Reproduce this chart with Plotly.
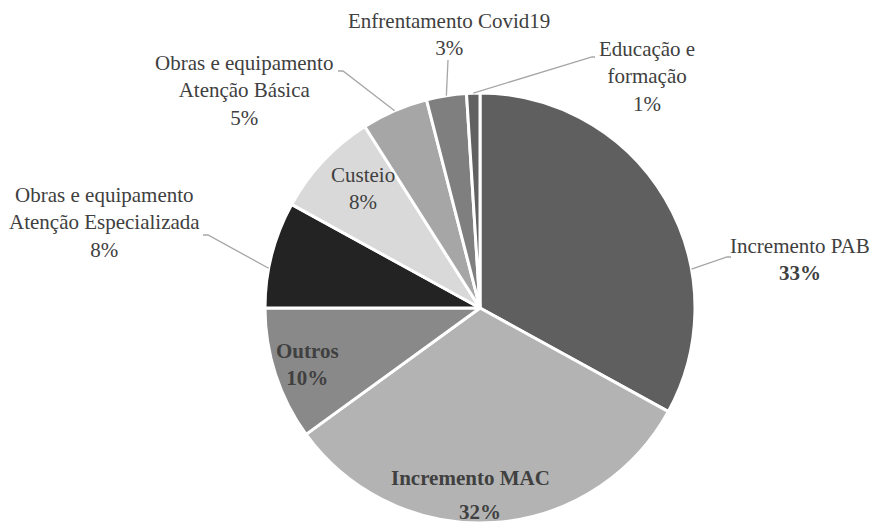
import math
import plotly.graph_objects as go

# Slice data (clockwise from 12 o'clock)
categories = [
    "Incremento PAB",
    "Incremento MAC",
    "Outros",
    "Obras e equipamento<br>Atenção Especializada",
    "Custeio",
    "Obras e equipamento<br>Atenção Básica",
    "Enfrentamento Covid19",
    "Educação e<br>formação",
]
shares = [33, 32, 10, 8, 8, 5, 3, 1]
colors = ["#5f5f5f", "#b3b3b3", "#898989", "#232323",
          "#d9d9d9", "#a6a6a6", "#7f7f7f", "#616161"]

W, H = 876, 524
CX, CY, R = 480, 308, 215          # pie centre / radius in pixels
FONT = "Liberation Serif"
FS = 21
TXT = "#404040"
LEAD = "#a6a6a6"


def px(x, y):
    return x / W, 1 - y / H


fig = go.Figure(go.Pie(
    labels=[c.replace("<br>", " ") for c in categories],
    values=shares,
    sort=False,
    direction="clockwise",
    rotation=0,
    marker=dict(colors=colors, line=dict(color="white", width=3)),
    textinfo="none",
    hoverinfo="label+percent",
    showlegend=False,
    domain=dict(x=[(CX - R) / W, (CX + R) / W],
                y=[1 - (CY + R) / H, 1 - (CY - R) / H]),
))

total = sum(shares)
starts = []
acc = 0
for v in shares:
    starts.append(acc)
    acc += v


def arc_point(i, frac=0.5):
    ang = (starts[i] + frac * shares[i]) / total * 2 * math.pi
    return CX + R * math.sin(ang), CY - R * math.cos(ang)


# label placement: (x, y) of text block centre, bold flags,
# leader elbow points (None for inside labels), position along slice
label_style = {
    0: dict(xy=(800, 259), bold_pct=True, bold_name=False,
            leader=[(731, 257), (727, 257)], frac=0.67),
    2: dict(xy=(307, 364), bold_pct=True, bold_name=True, leader=None),
    3: dict(xy=(104, 222), bold_pct=False, bold_name=False,
            leader=[(203, 235), (208, 235)], frac=0.37),
    4: dict(xy=(363, 188), bold_pct=False, bold_name=False, leader=None),
    5: dict(xy=(244, 91), bold_pct=False, bold_name=False,
            leader=[(338, 71), (343, 71)], frac=0.5),
    6: dict(xy=(449, 34), bold_pct=False, bold_name=False,
            leader=[(448, 60)], frac=0.5),
    7: dict(xy=(647, 76), bold_pct=False, bold_name=False,
            leader=[(595, 57), (592, 57)], frac=0.5),
}

annotations = []
shapes = []
for i, st in label_style.items():
    name = categories[i]
    pct = f"{shares[i] / total * 100:.0f}%"
    if st["bold_name"]:
        name = "<br>".join(f"<b>{p}</b>" for p in name.split("<br>"))
    if st["bold_pct"]:
        pct = f"<b>{pct}</b>"
    x, y = px(*st["xy"])
    annotations.append(dict(
        x=x, y=y, xref="paper", yref="paper", text=f"{name}<br>{pct}",
        showarrow=False, xanchor="center", yanchor="middle", align="center",
        font=dict(family=FONT, size=FS, color=TXT),
    ))
    if st["leader"]:
        pts = list(st["leader"]) + [arc_point(i, st["frac"])]
        path = "M " + " L ".join(f"{px(a, b)[0]},{px(a, b)[1]}" for a, b in pts)
        shapes.append(dict(type="path", xref="paper", yref="paper",
                           path=path, line=dict(color=LEAD, width=1.3)))

# Incremento MAC: name and value set further apart
for text, (x0, y0) in [("<b>Incremento MAC</b>", (470, 478)),
                        (f"<b>{shares[1] / total * 100:.0f}%</b>", (480, 512))]:
    x, y = px(x0, y0)
    annotations.append(dict(
        x=x, y=y, xref="paper", yref="paper", text=text, showarrow=False,
        xanchor="center", yanchor="middle",
        font=dict(family=FONT, size=FS, color=TXT),
    ))

fig.update_layout(
    width=W, height=H,
    margin=dict(l=0, r=0, t=0, b=0),
    paper_bgcolor="white", plot_bgcolor="white",
    annotations=annotations, shapes=shapes,
)

fig.write_html("out.html")
